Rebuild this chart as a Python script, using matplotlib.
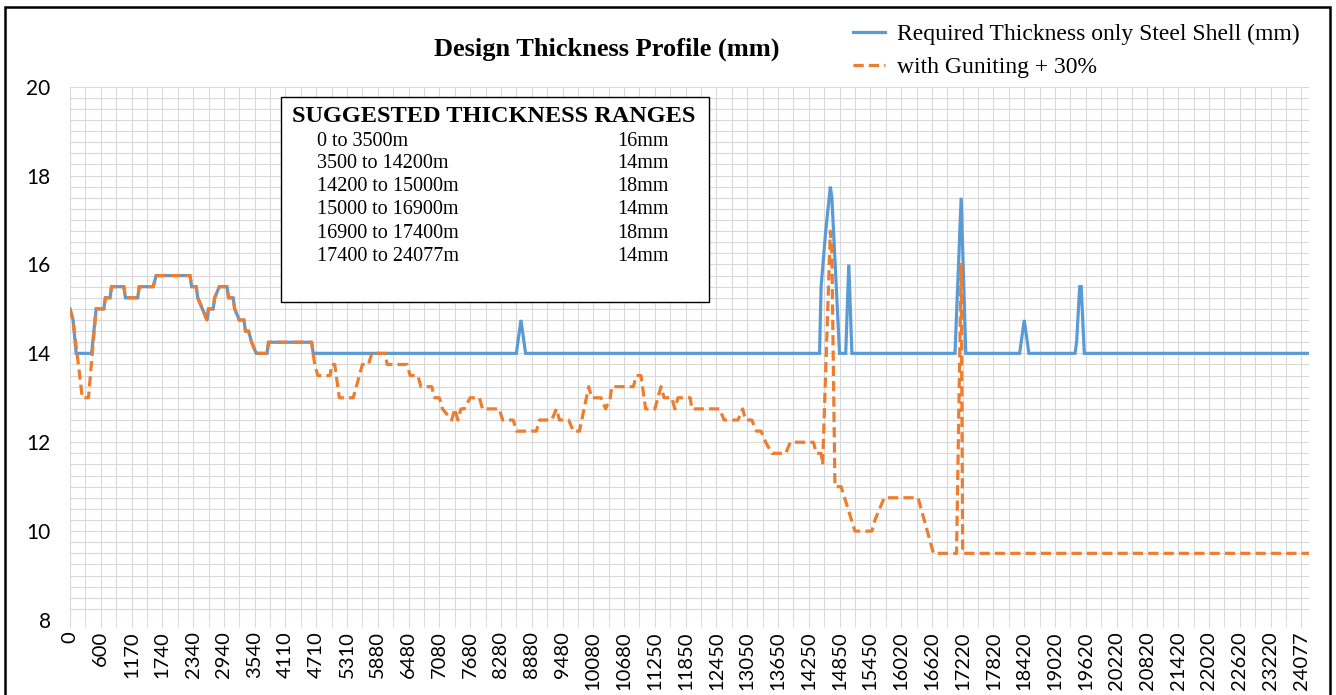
import matplotlib
matplotlib.use("Agg")
import matplotlib.pyplot as plt
from matplotlib.patches import Rectangle
from matplotlib.ticker import MultipleLocator

# chainage labels on the category axis (one label every 20 categories)
tick_labels = ["0", "600", "1170", "1740", "2340", "2940", "3540", "4110", "4710",
               "5310", "5880", "6480", "7080", "7680", "8280", "8880", "9480",
               "10080", "10680", "11250", "11850", "12450", "13050", "13650",
               "14250", "14850", "15450", "16020", "16620", "17220", "17820",
               "18420", "19020", "19620", "20220", "20820", "21420", "22020",
               "22620", "23220", "24077"]
n_cat = 805

# Required Thickness only Steel Shell (mm): category index / value at each corner
steel_x = [0, 2, 4, 14, 17, 22, 23, 26, 27, 35, 36, 44, 45, 54, 56, 78, 79, 82, 83,
           86, 89, 90, 93, 94, 97, 102, 103, 106, 107, 110, 113, 114, 116, 118, 121,
           128, 129, 157, 158, 290, 293, 296, 487, 488, 491, 494, 495, 500, 504, 506,
           508, 575, 579, 582, 617, 620, 623, 653, 654, 656, 657, 659, 805]
steel_y = [15.0, 14.75, 14.0, 14.0, 15.0, 15.0, 15.25, 15.25, 15.5, 15.5, 15.25,
           15.25, 15.5, 15.5, 15.75, 15.75, 15.5, 15.5, 15.25, 15.0, 14.75, 15.0,
           15.0, 15.25, 15.5, 15.5, 15.25, 15.25, 15.0, 14.75, 14.75, 14.5, 14.5,
           14.25, 14.0, 14.0, 14.25, 14.25, 14.0, 14.0, 14.75, 14.0, 14.0, 15.5,
           16.75, 17.75, 17.5, 14.0, 14.0, 16.0, 14.0, 14.0, 17.5, 14.0, 14.0, 14.75,
           14.0, 14.0, 14.25, 15.5, 15.5, 14.0, 14.0]

# with Guniting + 30%
gunite_x = [0, 2, 8, 12, 17, 22, 23, 26, 27, 35, 36, 44, 45, 54, 56, 78, 79, 82, 83,
            86, 89, 90, 93, 94, 97, 102, 103, 106, 107, 110, 113, 114, 116, 118, 121,
            128, 129, 157, 158, 159, 161, 169, 170, 172, 175, 184, 190, 194, 196, 205,
            206, 219, 221, 226, 228, 235, 237, 240, 242, 248, 250, 252, 254, 256, 260,
            266, 268, 279, 281, 288, 290, 303, 305, 313, 316, 318, 324, 327, 331, 337,
            339, 345, 348, 351, 352, 366, 368, 371, 374, 380, 382, 384, 386, 391, 393,
            395, 403, 404, 422, 425, 434, 437, 439, 443, 446, 449, 452, 456, 465, 468,
            483, 485, 488, 489, 494, 495, 497, 501, 510, 521, 523, 529, 551, 561, 576,
            579, 580, 805]
gunite_y = [15.0, 14.75, 13.0, 13.0, 15.0, 15.0, 15.25, 15.25, 15.5, 15.5, 15.25,
            15.25, 15.5, 15.5, 15.75, 15.75, 15.5, 15.5, 15.25, 15.0, 14.75, 15.0,
            15.0, 15.25, 15.5, 15.5, 15.25, 15.25, 15.0, 14.75, 14.75, 14.5, 14.5,
            14.25, 14.0, 14.0, 14.25, 14.25, 14.0, 13.75, 13.5, 13.5, 13.75, 13.75,
            13.0, 13.0, 13.75, 13.75, 14.0, 14.0, 13.75, 13.75, 13.5, 13.5, 13.25,
            13.25, 13.0, 13.0, 12.75, 12.5, 12.75, 12.5, 12.75, 12.75, 13.0, 13.0,
            12.75, 12.75, 12.5, 12.5, 12.25, 12.25, 12.5, 12.5, 12.75, 12.5, 12.5,
            12.25, 12.25, 13.25, 13.0, 13.0, 12.75, 13.0, 13.25, 13.25, 13.5, 13.5,
            12.75, 12.75, 13.0, 13.25, 13.0, 13.0, 12.75, 13.0, 13.0, 12.75, 12.75,
            12.5, 12.5, 12.75, 12.5, 12.5, 12.25, 12.25, 12.0, 11.75, 11.75, 12.0,
            12.0, 11.75, 11.75, 11.5, 16.75, 16.25, 11.0, 11.0, 10.0, 10.0, 10.25,
            10.75, 10.75, 9.5, 9.5, 16.0, 9.5, 9.5]

box_title = "SUGGESTED THICKNESS RANGES"
box_ranges = ["0 to 3500m", "3500 to 14200m", "14200 to 15000m", "15000 to 16900m",
              "16900 to 17400m", "17400 to 24077m"]
box_thick = ["16mm", "14mm", "18mm", "14mm", "18mm", "14mm"]

W, H = 1336, 695


def fx(x):
    return x / W


def fy(y):
    return 1 - y / H


fig = plt.figure(figsize=(W / 100, H / 100), dpi=100)
ax = fig.add_axes([fx(70), fy(620), fx(1309) - fx(70), fy(86.7) - fy(620)])

blue = "#5B9BD5"
orange = "#ED7D31"
l1, = ax.plot(steel_x, steel_y, color=blue, lw=2.3, solid_joinstyle="miter",
              label="Required Thickness only Steel Shell (mm)", zorder=3)
l2, = ax.plot(gunite_x, gunite_y, color=orange, lw=2.3, dashes=(3.2, 1.6),
              label="with Guniting + 30%", zorder=4)

ax.set_xlim(0, n_cat)
ax.set_ylim(8, 20)
ax.set_xticks(range(0, 20 * len(tick_labels), 20))
ax.set_xticklabels(tick_labels, rotation=90, fontfamily="Lato", fontsize=14.5)
ax.xaxis.set_minor_locator(MultipleLocator(10))
ax.set_yticks(range(8, 21, 2))
ax.yaxis.set_minor_locator(MultipleLocator(0.25))
for lab in ax.get_yticklabels():
    lab.set_fontfamily("Lato")
    lab.set_fontsize(15)
ax.tick_params(axis="x", which="both", length=5, color="#d9d9d9", pad=3)
ax.tick_params(axis="y", which="both", length=0, pad=14)
ax.grid(True, which="both", color="#d9d9d9", lw=0.8)
ax.set_axisbelow(True)
for s in ax.spines.values():
    s.set_visible(False)

fig.text(fx(607), fy(49), "Design Thickness Profile (mm)", ha="center", va="center",
         fontfamily="Liberation Serif", fontweight="bold", fontsize=19)

ax.legend(handles=[l1, l2], loc="upper left", bbox_to_anchor=(fx(832), fy(2)),
          bbox_transform=fig.transFigure, frameon=False,
          prop={"family": "Liberation Serif", "size": 17},
          handlelength=1.35, handletextpad=0.5, labelspacing=0.5)

# text box with the suggested ranges
fig.add_artist(Rectangle((fx(281), fy(302)), fx(709) - fx(281), fy(97) - fy(302),
                         transform=fig.transFigure, facecolor="white",
                         edgecolor="black", lw=1.0, zorder=5))
fig.text(fx(292), fy(116), box_title, ha="left", va="center",
         fontfamily="Liberation Serif", fontweight="bold", fontsize=17.5, zorder=6)
for i, (r, t) in enumerate(zip(box_ranges, box_thick)):
    yy = fy(141 + 23 * i)
    fig.text(fx(317), yy, r, ha="left", va="center", fontfamily="Liberation Serif",
             fontsize=14.5, zorder=6)
    fig.text(fx(617), yy, t, ha="left", va="center", fontfamily="Liberation Serif",
             fontsize=14.5, zorder=6)

# outer border of the chart
fig.add_artist(Rectangle((fx(5), -0.05), fx(1330) - fx(5), fy(7) + 0.05,
                         transform=fig.transFigure, facecolor="none",
                         edgecolor="black", lw=1.8))

fig.savefig("out.png", dpi=100)
